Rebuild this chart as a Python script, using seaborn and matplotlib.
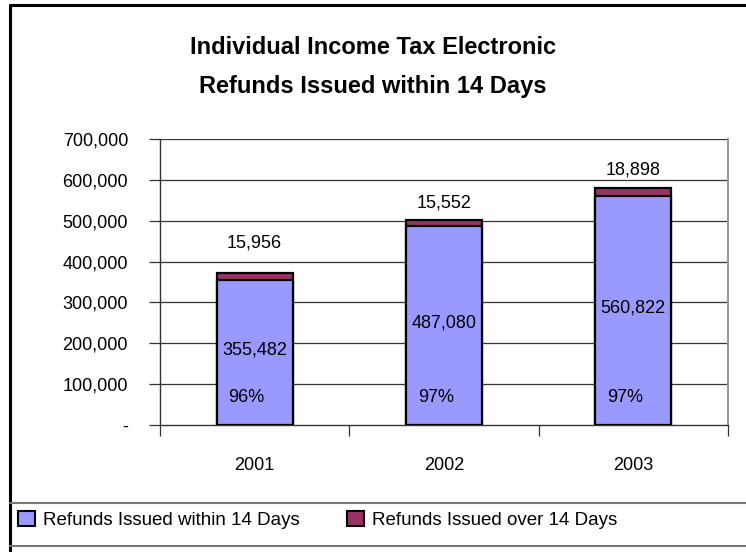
import matplotlib
matplotlib.use("Agg")
import matplotlib.pyplot as plt
from matplotlib.lines import Line2D
from matplotlib.patches import Patch
import matplotlib.ticker as mticker
import pandas as pd
import seaborn as sns

# Data
years = ["2001", "2002", "2003"]
within_14 = [355482, 487080, 560822]
over_14 = [15956, 15552, 18898]

title_lines = ["Individual Income Tax Electronic", "Refunds Issued within 14 Days"]
series_names = ["Refunds Issued within 14 Days", "Refunds Issued over 14 Days"]
y_ticks = [0, 100000, 200000, 300000, 400000, 500000, 600000, 700000]

BLUE = "#9999FF"
MAROON = "#993366"

sns.set_theme(style="white")
plt.rcParams["font.family"] = ["Liberation Sans", "DejaVu Sans"]
plt.rcParams["text.color"] = "black"
plt.rcParams["xtick.color"] = "black"
plt.rcParams["ytick.color"] = "black"
plt.rcParams["xtick.labelcolor"] = "black"
plt.rcParams["ytick.labelcolor"] = "black"

W, H = 746, 552
fig = plt.figure(figsize=(W / 100, H / 100), dpi=100)

df = pd.DataFrame({"year": years, "within": within_14, "over": over_14})
df["total"] = df["within"] + df["over"]

# plot area in pixel coordinates
left, right, top, bottom = 160, 728, 139, 425
ax = fig.add_axes([left / W, 1 - bottom / H, (right - left) / W, (bottom - top) / H])

# stacked bars: full stack in maroon, lower segment in blue drawn over it
sns.barplot(data=df, x="year", y="total", color=MAROON, width=0.4, saturation=1,
            edgecolor="black", linewidth=1.6, ax=ax, zorder=3)
sns.barplot(data=df, x="year", y="within", color=BLUE, width=0.4, saturation=1,
            edgecolor="black", linewidth=1.6, ax=ax, zorder=4)

ax.set_xlim(-0.495, 2.495)
ax.set_ylim(0, 700000)
ax.set_xlabel("")
ax.set_ylabel("")

# grid lines
ax.set_yticks(y_ticks)
for yv in y_ticks[1:]:
    ax.axhline(yv, color="#333333", lw=0.9, zorder=1)

ax.yaxis.set_major_formatter(mticker.FuncFormatter(lambda v, p: "-" if v == 0 else f"{int(v):,}"))
ax.tick_params(axis="y", which="major", direction="out", length=8, width=0.9,
               color="#333333", pad=15, labelsize=13, left=True)
ax.tick_params(axis="x", which="major", length=0, pad=23, labelsize=13)
ax.set_xticks([-0.5, 0.5, 1.5, 2.5], minor=True)
ax.tick_params(axis="x", which="minor", direction="out", length=8, width=0.9,
               color="#333333", bottom=True)

ax.spines["top"].set_visible(False)
ax.spines["left"].set_color("#333333")
ax.spines["left"].set_linewidth(1.0)
ax.spines["bottom"].set_color("#333333")
ax.spines["bottom"].set_linewidth(1.0)
ax.spines["right"].set_color("#999999")
ax.spines["right"].set_linewidth(1.5)

# data labels
over_offsets_px = [30, 17, 18]
for i in range(len(years)):
    tot = within_14[i] + over_14[i]
    ax.annotate(f"{over_14[i]:,}", (i, tot), xytext=(0, over_offsets_px[i] * 0.72),
                textcoords="offset points", ha="center", va="center", fontsize=13, zorder=6)
    ax.annotate(f"{within_14[i]:,}", (i, within_14[i] / 2), xytext=(0, 2),
                textcoords="offset points", ha="center", va="center", fontsize=13, zorder=6)
    pct = round(100 * within_14[i] / tot)
    ax.annotate(f"{pct}%", (i, 68000), xytext=(-6, 0),
                textcoords="offset points", ha="center", va="center", fontsize=13, zorder=6)

# title
fig.text(373 / W, 1 - 48 / H, title_lines[0], ha="center", va="center",
         fontsize=17, fontweight="bold")
fig.text(373 / W, 1 - 86 / H, title_lines[1], ha="center", va="center",
         fontsize=17, fontweight="bold")

# chart frame and legend box
fig.add_artist(Line2D([10 / W, 10 / W], [0, 1 - 5 / H], transform=fig.transFigure,
                      color="black", lw=2.2))
fig.add_artist(Line2D([10 / W, 1], [1 - 5 / H, 1 - 5 / H], transform=fig.transFigure,
                      color="black", lw=2.2))
for yy in [503, 546]:
    fig.add_artist(Line2D([10 / W, 1], [1 - yy / H, 1 - yy / H], transform=fig.transFigure,
                          color="#777777", lw=1.5))

handles = [Patch(facecolor=BLUE, edgecolor="black", linewidth=1.5),
           Patch(facecolor=MAROON, edgecolor="black", linewidth=1.5)]
fig.legend(handles, series_names, loc="center left", bbox_to_anchor=(18 / W, 1 - 520 / H),
           ncol=2, frameon=False, fontsize=13.5, handlelength=0.9, handleheight=0.9,
           handletextpad=0.45, columnspacing=2.5, borderaxespad=0, borderpad=0)

fig.savefig("out.png", dpi=100)
